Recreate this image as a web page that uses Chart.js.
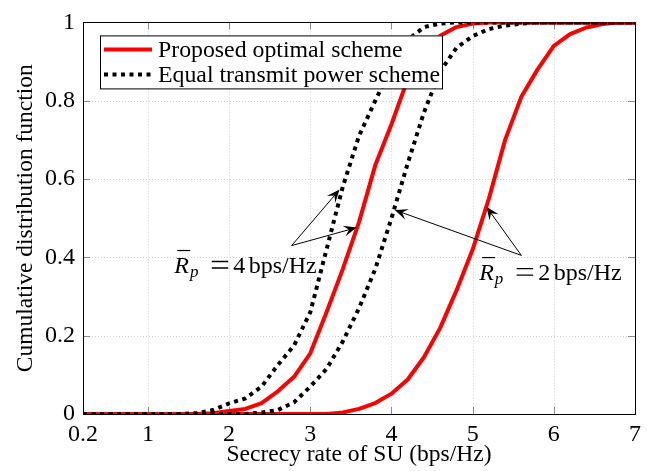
<!DOCTYPE html>
<html>
<head>
<meta charset="utf-8">
<script src="https://cdn.jsdelivr.net/npm/chart.js@4.4.1/dist/chart.umd.min.js"></script>
<style>
  html, body { margin: 0; padding: 0; background: #fff; }
  #wrap { width: 647px; height: 471px; }
</style>
</head>
<body>
<div id="wrap"><canvas id="cdfChart"></canvas></div>
<script>
// Secrecy rate samples (bps/Hz)
const rates = [0.2, 0.4, 0.6, 0.8, 1.0, 1.2, 1.4, 1.6, 1.8, 2.0, 2.2, 2.4, 2.6, 2.8, 3.0, 3.2, 3.4, 3.6,
               3.8, 4.0, 4.2, 4.4, 4.6, 4.8, 5.0, 5.2, 5.4, 5.6, 5.8, 6.0, 6.2, 6.4, 6.6, 6.8, 7.0];

// CDF values, Rp = 4 bps/Hz
const optimalRp4 = [0, 0, 0, 0, 0, 0, 0, 0, 0.002, 0.008, 0.013, 0.028, 0.058, 0.095, 0.155, 0.26, 0.37, 0.49,
                    0.635, 0.74, 0.855, 0.93, 0.966, 0.988, 0.997, 1, 1, 1, 1, 1, 1, 1, 1, 1, 1];
const equalRp4 = [0, 0, 0, 0, 0, 0, 0, 0.002, 0.01, 0.027, 0.04, 0.07, 0.125, 0.175, 0.26, 0.42, 0.58, 0.71,
                  0.80, 0.885, 0.955, 0.988, 0.997, 1, 1, 1, 1, 1, 1, 1, 1, 1, 1, 1, 1];

// CDF values, Rp = 2 bps/Hz
const optimalRp2 = [0, 0, 0, 0, 0, 0, 0, 0, 0, 0, 0, 0, 0, 0, 0, 0, 0.004, 0.013,
                    0.028, 0.052, 0.088, 0.145, 0.22, 0.315, 0.42, 0.55, 0.70, 0.81, 0.88, 0.94, 0.97, 0.987, 0.996, 1, 1];
const equalRp2 = [0, 0, 0, 0, 0, 0, 0, 0, 0, 0, 0, 0.004, 0.01, 0.03, 0.07, 0.115, 0.185, 0.27,
                  0.37, 0.50, 0.64, 0.77, 0.875, 0.935, 0.965, 0.983, 0.992, 0.997, 1, 1, 1, 1, 1, 1, 1];

const xTicks = [0.2, 1, 2, 3, 4, 5, 6, 7];
const yTicks = [0, 0.2, 0.4, 0.6, 0.8, 1];
const legendLabels = ['Proposed optimal scheme', 'Equal transmit power scheme'];

// annotations in data units: label position, arrow origin, arrow tips
const notes = [
    { rate: '4', at: [1.324, 0.36], from: [2.77, 0.43], to: [[3.36, 0.573], [3.57, 0.476]] },
    { rate: '2', at: [5.08, 0.342], from: [5.6, 0.405], to: [[4.04, 0.521], [5.17, 0.529]] }
];

const FONT = '"Liberation Serif", "Times New Roman", serif';
const FS = 23.5;
const RED = '#ff0000';
const pts = arr => rates.map((r, i) => ({ x: r, y: arr[i] }));

function drawArrow(ctx, x0, y0, x1, y1) {
    const ang = Math.atan2(y1 - y0, x1 - x0), L = 13, W = 5.5;
    ctx.beginPath(); ctx.moveTo(x0, y0); ctx.lineTo(x1 - Math.cos(ang) * 6, y1 - Math.sin(ang) * 6); ctx.stroke();
    ctx.save();
    ctx.translate(x1, y1); ctx.rotate(ang);
    ctx.beginPath();
    ctx.moveTo(0, 0); ctx.lineTo(-L, -W); ctx.lineTo(-L * 0.6, 0); ctx.lineTo(-L, W);
    ctx.closePath(); ctx.fill();
    ctx.restore();
}

// \bar{R}_p = n bps/Hz
function drawRateLabel(ctx, x, y, rate) {
    ctx.textAlign = 'left'; ctx.textBaseline = 'alphabetic';
    ctx.font = `italic 24px ${FONT}`;
    ctx.fillText('R', x, y);
    const wR = ctx.measureText('R').width;
    ctx.lineWidth = 1.2;
    ctx.beginPath(); ctx.moveTo(x + 3, y - 22.5); ctx.lineTo(x + 16, y - 22.5); ctx.stroke();
    ctx.font = `italic 17px ${FONT}`;
    ctx.fillText('p', x + wR + 1, y + 4);
    // equals sign, math width
    ctx.lineWidth = 1.3;
    ctx.beginPath();
    ctx.moveTo(x + 37.5, y - 11.5); ctx.lineTo(x + 54, y - 11.5);
    ctx.moveTo(x + 37.5, y - 5); ctx.lineTo(x + 54, y - 5);
    ctx.stroke();
    ctx.font = `24px ${FONT}`;
    ctx.fillText(rate, x + 59, y);
    ctx.fillText('bps/Hz', x + 74.5, y);
}

const decorPlugin = {
    id: 'decor',
    beforeDatasetsDraw(chart) {
        const { ctx, chartArea: a, scales: { x, y } } = chart;
        ctx.save();
        // dotted grid
        ctx.strokeStyle = '#cfcfcf'; ctx.lineWidth = 1; ctx.setLineDash([1, 2]);
        xTicks.slice(1, -1).forEach(v => {
            const p = Math.round(x.getPixelForValue(v)) + 0.5;
            ctx.beginPath(); ctx.moveTo(p, a.top); ctx.lineTo(p, a.bottom); ctx.stroke();
        });
        yTicks.slice(1, -1).forEach(v => {
            const p = Math.round(y.getPixelForValue(v)) + 0.5;
            ctx.beginPath(); ctx.moveTo(a.left, p); ctx.lineTo(a.right, p); ctx.stroke();
        });
        ctx.setLineDash([]);
        // inner tick marks
        ctx.strokeStyle = '#8a8a8a';
        xTicks.slice(1, -1).forEach(v => {
            const p = Math.round(x.getPixelForValue(v)) + 0.5;
            ctx.beginPath(); ctx.moveTo(p, a.bottom); ctx.lineTo(p, a.bottom - 7);
            ctx.moveTo(p, a.top); ctx.lineTo(p, a.top + 7); ctx.stroke();
        });
        yTicks.slice(1, -1).forEach(v => {
            const p = Math.round(y.getPixelForValue(v)) + 0.5;
            ctx.beginPath(); ctx.moveTo(a.left, p); ctx.lineTo(a.left + 7, p);
            ctx.moveTo(a.right, p); ctx.lineTo(a.right - 7, p); ctx.stroke();
        });
        // frame
        ctx.strokeStyle = '#000';
        ctx.strokeRect(Math.round(a.left) + 0.5, Math.round(a.top) + 0.5,
                       Math.round(a.right - a.left), Math.round(a.bottom - a.top));
        ctx.restore();
    },
    afterDatasetsDraw(chart) {
        const { ctx, chartArea: a, scales: { x, y } } = chart;
        ctx.save();
        // legend box
        const bx = a.left + 17, by = a.top + 13, bw = 342, bh = 53;
        ctx.fillStyle = '#fff'; ctx.fillRect(bx, by, bw, bh);
        ctx.strokeStyle = '#000'; ctx.lineWidth = 1;
        ctx.strokeRect(bx + 0.5, by + 0.5, bw, bh);
        const rows = [by + 14, by + 39];
        chart.data.datasets.slice(0, 2).forEach((ds, i) => {
            ctx.strokeStyle = ds.borderColor; ctx.lineWidth = ds.borderWidth;
            ctx.setLineDash(ds.borderDash || []);
            ctx.beginPath(); ctx.moveTo(bx + 4, rows[i]); ctx.lineTo(bx + 52, rows[i]); ctx.stroke();
            ctx.setLineDash([]);
            ctx.fillStyle = '#000'; ctx.font = `23.8px ${FONT}`;
            ctx.textAlign = 'left'; ctx.textBaseline = 'middle';
            ctx.fillText(legendLabels[i], bx + 58, rows[i] + 1);
        });
        // annotations
        ctx.strokeStyle = '#000'; ctx.fillStyle = '#000'; ctx.lineWidth = 1;
        notes.forEach(n => {
            const fx = x.getPixelForValue(n.from[0]), fy = y.getPixelForValue(n.from[1]);
            ctx.lineWidth = 1;
            n.to.forEach(t => drawArrow(ctx, fx, fy, x.getPixelForValue(t[0]), y.getPixelForValue(t[1])));
            drawRateLabel(ctx, x.getPixelForValue(n.at[0]), y.getPixelForValue(n.at[1]), n.rate);
        });
        ctx.restore();
    }
};

const solid = { borderColor: RED, borderWidth: 4, pointRadius: 0, tension: 0, borderJoinStyle: 'round', order: 2 };
const dotted = { borderColor: '#000', borderWidth: 4, borderDash: [4, 4.5], borderCapStyle: 'butt', pointRadius: 0, tension: 0, order: 1 };

new Chart(document.getElementById('cdfChart'), {
    type: 'line',
    data: {
        datasets: [
            { label: legendLabels[0], data: pts(optimalRp4), ...solid },
            { label: legendLabels[1], data: pts(equalRp4), ...dotted },
            { label: legendLabels[0], data: pts(optimalRp2), ...solid },
            { label: legendLabels[1], data: pts(equalRp2), ...dotted }
        ]
    },
    options: {
        responsive: true, maintainAspectRatio: false, animation: false,
        layout: { padding: { top: 17, right: 12, left: 0, bottom: 0 } },
        plugins: { legend: { display: false }, tooltip: { enabled: false } },
        scales: {
            x: {
                type: 'linear', min: 0.2, max: 7,
                afterBuildTicks: s => { s.ticks = xTicks.map(value => ({ value })); },
                afterFit: s => { s.height = 57; },
                grid: { display: false, drawTicks: false }, border: { display: false },
                ticks: { color: '#000', font: { family: FONT, size: 24 }, padding: 6, maxRotation: 0, autoSkip: false, callback: v => String(v) },
                title: { display: true, text: 'Secrecy rate of SU (bps/Hz)', color: '#000', font: { family: FONT, size: FS }, padding: { top: 0, bottom: 2 } }
            },
            y: {
                type: 'linear', min: 0, max: 1,
                afterBuildTicks: s => { s.ticks = yTicks.map(value => ({ value })); },
                afterFit: s => { s.width = 83; },
                grid: { display: false, drawTicks: false }, border: { display: false },
                ticks: { color: '#000', font: { family: FONT, size: 24 }, padding: 8, autoSkip: false, callback: v => String(v) },
                title: { display: true, text: 'Cumulative distribution function', color: '#000', font: { family: FONT, size: FS }, padding: { top: 12, bottom: 0 } }
            }
        }
    },
    plugins: [decorPlugin]
});
</script>
</body>
</html>
